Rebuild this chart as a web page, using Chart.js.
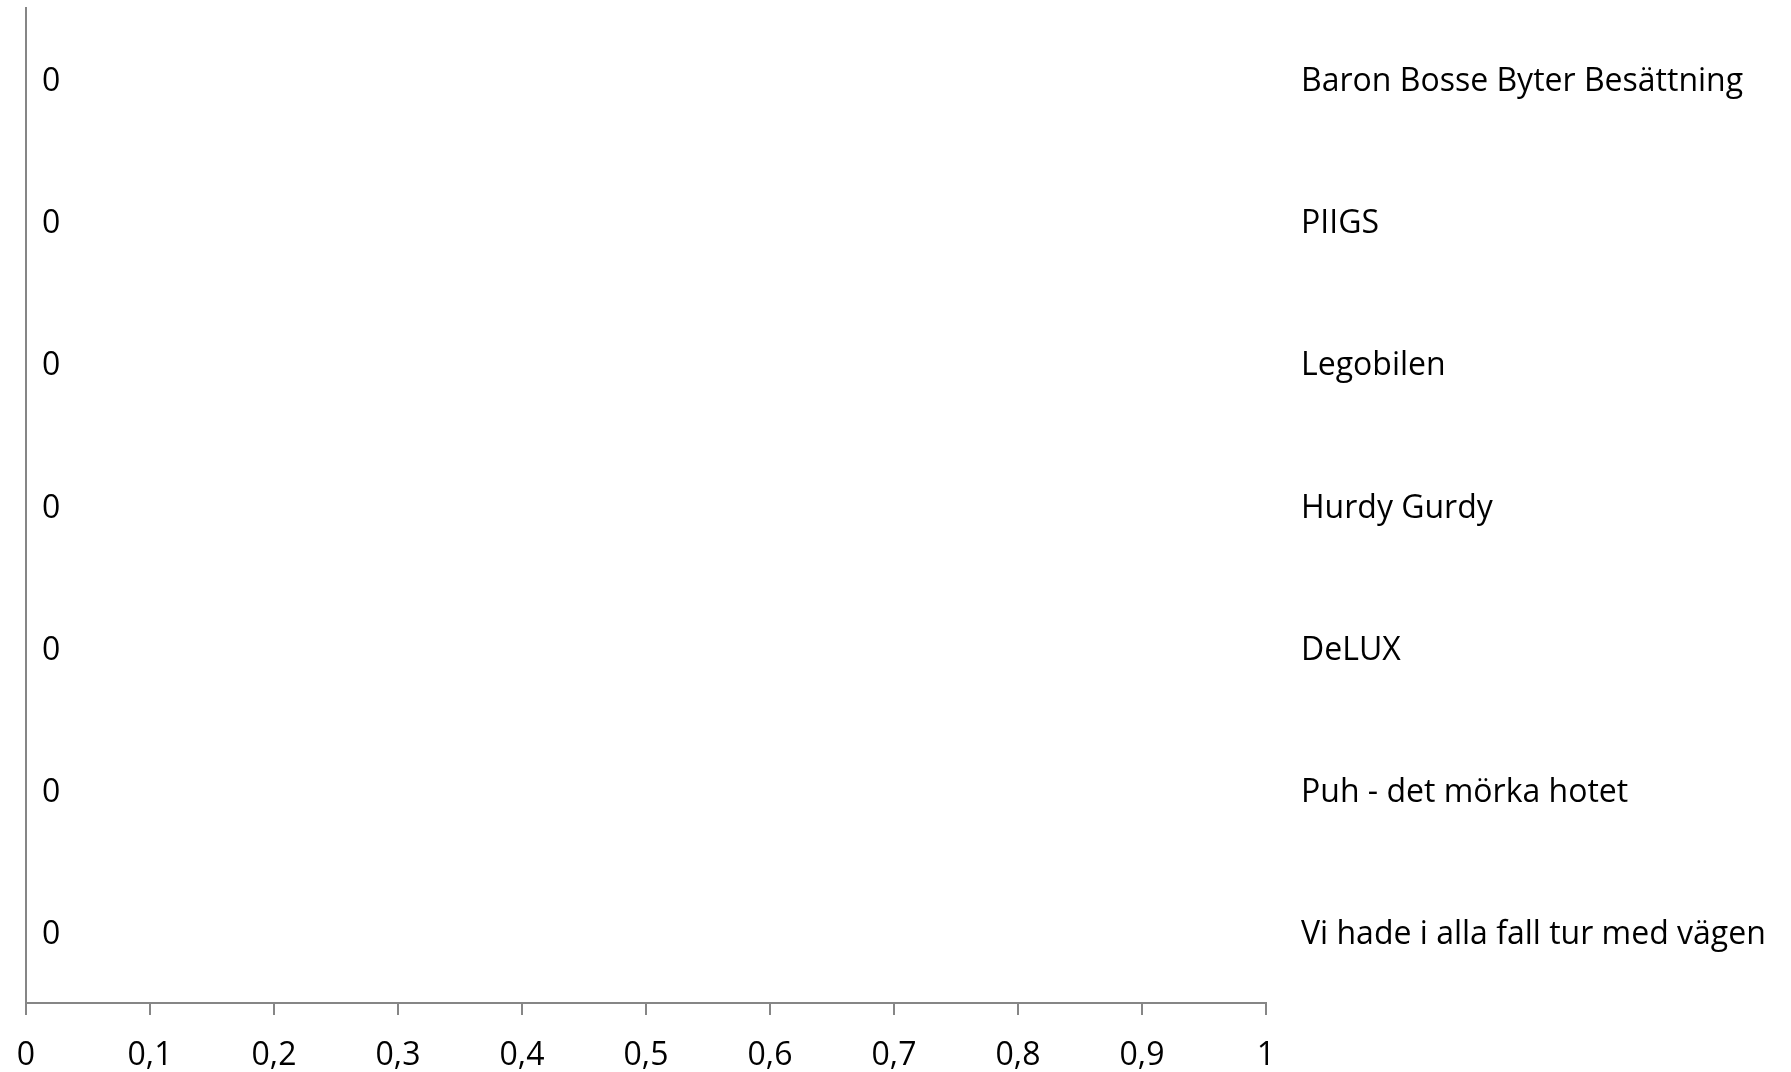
<!DOCTYPE html>
<html>
<head>
<meta charset="utf-8">
<script src="https://cdn.jsdelivr.net/npm/chart.js@4/dist/chart.umd.min.js"></script>
<style>
  body { margin: 0; background: #fff; }
  #chart { display: block; }
</style>
</head>
<body>
<canvas id="chart" width="1791" height="1072"></canvas>
<script>
const titles = ['Baron Bosse Byter Besättning', 'PIIGS', 'Legobilen', 'Hurdy Gurdy', 'DeLUX', 'Puh - det mörka hotet', 'Vi hade i alla fall tur med vägen'];
const values = [0, 0, 0, 0, 0, 0, 0];
const xTicks = [0, 0.1, 0.2, 0.3, 0.4, 0.5, 0.6, 0.7, 0.8, 0.9, 1];

const axisGrey = '#868686';
const font = { family: "'Open Sans', 'Noto Sans', sans-serif", size: 32 };

// draws the value next to each (empty) bar, like the Excel data labels
const valueLabels = {
  id: 'valueLabels',
  afterDatasetsDraw(chart) {
    const ctx = chart.ctx;
    const meta = chart.getDatasetMeta(0);
    ctx.save();
    ctx.font = font.size + 'px ' + font.family;
    ctx.fillStyle = '#000';
    ctx.textAlign = 'left';
    ctx.textBaseline = 'middle';
    meta.data.forEach((bar, i) => {
      ctx.fillText(String(values[i]), bar.x + 16, bar.y + 3);
    });
    ctx.restore();
  }
};

const noVertPadding = (axis) => { axis.paddingTop = 0; axis.paddingBottom = 0; };

const config = {
  type: 'bar',
  data: {
    labels: titles,
    datasets: [{
      data: values,
      backgroundColor: '#4f81bd',
      yAxisID: 'y'
    }]
  },
  options: {
    indexAxis: 'y',
    responsive: false,
    animation: false,
    layout: { padding: { top: 8, left: 0, right: 0, bottom: 0 } },
    plugins: {
      legend: { display: false },
      tooltip: { enabled: false }
    },
    scales: {
      x: {
        type: 'linear',
        min: 0,
        max: 1,
        afterBuildTicks: (axis) => { axis.ticks = xTicks.map(v => ({ value: v })); },
        ticks: {
          color: '#000',
          font: font,
          padding: 22,
          maxRotation: 0,
          callback: (v) => String(Math.round(v * 10) / 10).replace('.', ',')
        },
        grid: { drawOnChartArea: false, color: axisGrey, tickLength: 12, lineWidth: 2 },
        border: { color: axisGrey, width: 2 },
        afterFit: (axis) => { axis.height = 69; axis.paddingLeft = 0; axis.paddingRight = 0; }
      },
      yLeft: {
        type: 'category',
        position: 'left',
        ticks: { display: false },
        grid: { display: false, drawTicks: false },
        border: { color: axisGrey, width: 2 },
        afterFit: (axis) => { axis.width = 26; noVertPadding(axis); }
      },
      y: {
        type: 'category',
        position: 'right',
        ticks: {
          color: '#000',
          font: font,
          padding: 35,
          labelOffset: 3,
          crossAlign: 'near'
        },
        grid: { display: false, drawTicks: false },
        border: { display: false },
        afterFit: (axis) => { axis.width = 525; noVertPadding(axis); }
      }
    }
  },
  plugins: [valueLabels]
};

const chart = new Chart(document.getElementById('chart'), config);
</script>
</body>
</html>
